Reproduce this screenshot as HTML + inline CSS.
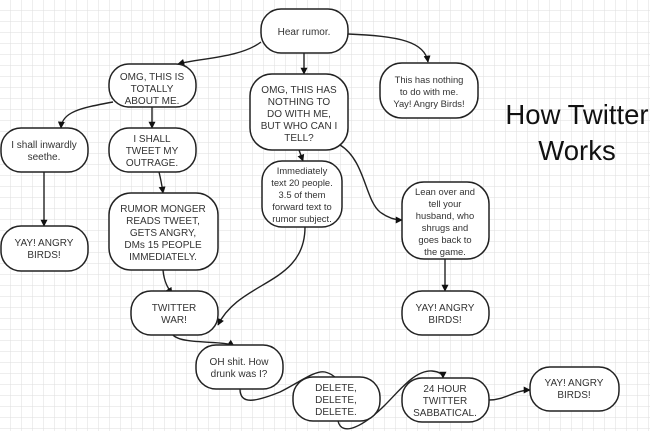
<!DOCTYPE html>
<html><head><meta charset="utf-8">
<style>
html,body{margin:0;padding:0;background:#fff;}
svg{display:block;}
text{font-family:"Liberation Sans",sans-serif;font-size:10px;fill:#333;text-anchor:middle;}
.s{font-size:9.4px;}
.t{font-size:27.5px;fill:#111;}
</style></head><body>
<svg width="650" height="431" viewBox="0 0 650 431" xmlns="http://www.w3.org/2000/svg">
<defs>
<pattern id="g" width="11" height="11" patternUnits="userSpaceOnUse">
<path d="M11 0V11M0 11H11" fill="none" stroke="#dedede" stroke-width="1"/>
</pattern>
<marker id="a" viewBox="0 0 10 10" refX="9" refY="5" markerWidth="7" markerHeight="7" orient="auto-start-reverse" markerUnits="userSpaceOnUse">
<path d="M0 0L10 5L0 10Z" fill="#111"/>
</marker>
</defs>
<rect width="650" height="431" fill="#fff"/>
<rect width="650" height="431" fill="url(#g)"/>

<g fill="none" stroke="#222" stroke-width="1.4" marker-end="url(#a)">
<path d="M261 42 C240 58 200 58 178 64"/>
<path d="M304 53 V74"/>
<path d="M348 34 C400 36 425 42 428 62"/>
<path d="M113 102 C80 108 62 112 61 128"/>
<path d="M152 107 V128"/>
<path d="M159 172 C161 180 162 186 163 193"/>
<path d="M299 150 L303 161"/>
<path d="M340 145 C365 160 365 200 380 212 C388 218 395 220 402 220"/>
<path d="M305 227 C305 285 240 280 218 325"/>
<path d="M163 270 C164 282 168 288 172 294"/>
<path d="M44 172 V226"/>
<path d="M445 259 V291"/>
<path d="M173 335 C182 345 225 340 234 346"/>
<path d="M240 389 C240 405 255 402 280 392 C300 382 315 370 325 372 C333 374 335 378 335 377"/>
<path d="M338 421 C342 438 365 425 385 405 C400 390 415 370 432 371 C442 372 443 376 443 378"/>
<path d="M489 400 C505 400 515 390 530 390"/>
</g>

<g fill="#fff" stroke="#222" stroke-width="1.5">
<rect x="261" y="9" width="87" height="44" rx="20"/>
<rect x="109" y="64" width="87" height="43" rx="20"/>
<rect x="250" y="74" width="98" height="76" rx="22"/>
<rect x="380" y="63" width="98" height="55" rx="22"/>
<rect x="1" y="128" width="87" height="44" rx="20"/>
<rect x="109" y="128" width="87" height="44" rx="20"/>
<rect x="262" y="161" width="80" height="66" rx="20"/>
<rect x="109" y="193" width="109" height="77" rx="22"/>
<rect x="1" y="226" width="87" height="45" rx="20"/>
<rect x="402" y="182" width="87" height="77" rx="22"/>
<rect x="131" y="291" width="87" height="44" rx="20"/>
<rect x="402" y="291" width="87" height="44" rx="20"/>
<rect x="196" y="345" width="87" height="44" rx="20"/>
<rect x="293" y="377" width="87" height="44" rx="20"/>
<rect x="402" y="378" width="87" height="44" rx="20"/>
<rect x="530" y="367" width="89" height="44" rx="20"/>
</g>

<text x="304" y="35">Hear rumor.</text>
<text x="152" y="80">OMG, THIS IS</text><text x="152" y="92">TOTALLY</text><text x="152" y="104">ABOUT ME.</text>
<text x="299" y="93">OMG, THIS HAS</text><text x="299" y="105">NOTHING TO</text><text x="299" y="117">DO WITH ME,</text><text x="299" y="129">BUT WHO CAN I</text><text x="299" y="141">TELL?</text>
<text x="429" y="83" class="s">This has nothing</text><text x="429" y="95" class="s">to do with me.</text><text x="429" y="107" class="s">Yay! Angry Birds!</text>
<text x="44" y="148">I shall inwardly</text><text x="44" y="160">seethe.</text>
<text x="152" y="142">I SHALL</text><text x="152" y="154">TWEET MY</text><text x="152" y="166">OUTRAGE.</text>
<text x="302" y="174" class="s">Immediately</text><text x="302" y="186" class="s">text 20 people.</text><text x="302" y="198" class="s">3.5 of them</text><text x="302" y="210" class="s">forward text to</text><text x="302" y="222" class="s">rumor subject.</text>
<text x="163" y="212">RUMOR MONGER</text><text x="163" y="224">READS TWEET,</text><text x="163" y="236">GETS ANGRY,</text><text x="163" y="248">DMs 15 PEOPLE</text><text x="163" y="260">IMMEDIATELY.</text>
<text x="44" y="246">YAY! ANGRY</text><text x="44" y="258">BIRDS!</text>
<text x="445" y="195" class="s">Lean over and</text><text x="445" y="207" class="s">tell your</text><text x="445" y="219" class="s">husband, who</text><text x="445" y="231" class="s">shrugs and</text><text x="445" y="243" class="s">goes back to</text><text x="445" y="255" class="s">the game.</text>
<text x="174" y="311">TWITTER</text><text x="174" y="323">WAR!</text>
<text x="445" y="311">YAY! ANGRY</text><text x="445" y="323">BIRDS!</text>
<text x="239" y="365">OH shit. How</text><text x="239" y="377">drunk was I?</text>
<text x="336" y="391">DELETE,</text><text x="336" y="403">DELETE,</text><text x="336" y="415">DELETE.</text>
<text x="445" y="392">24 HOUR</text><text x="445" y="404">TWITTER</text><text x="445" y="416">SABBATICAL.</text>
<text x="574" y="386">YAY! ANGRY</text><text x="574" y="398">BIRDS!</text>

<text class="t" x="577" y="124">How Twitter</text>
<text class="t" x="577" y="160">Works</text>
</svg>
</body></html>
